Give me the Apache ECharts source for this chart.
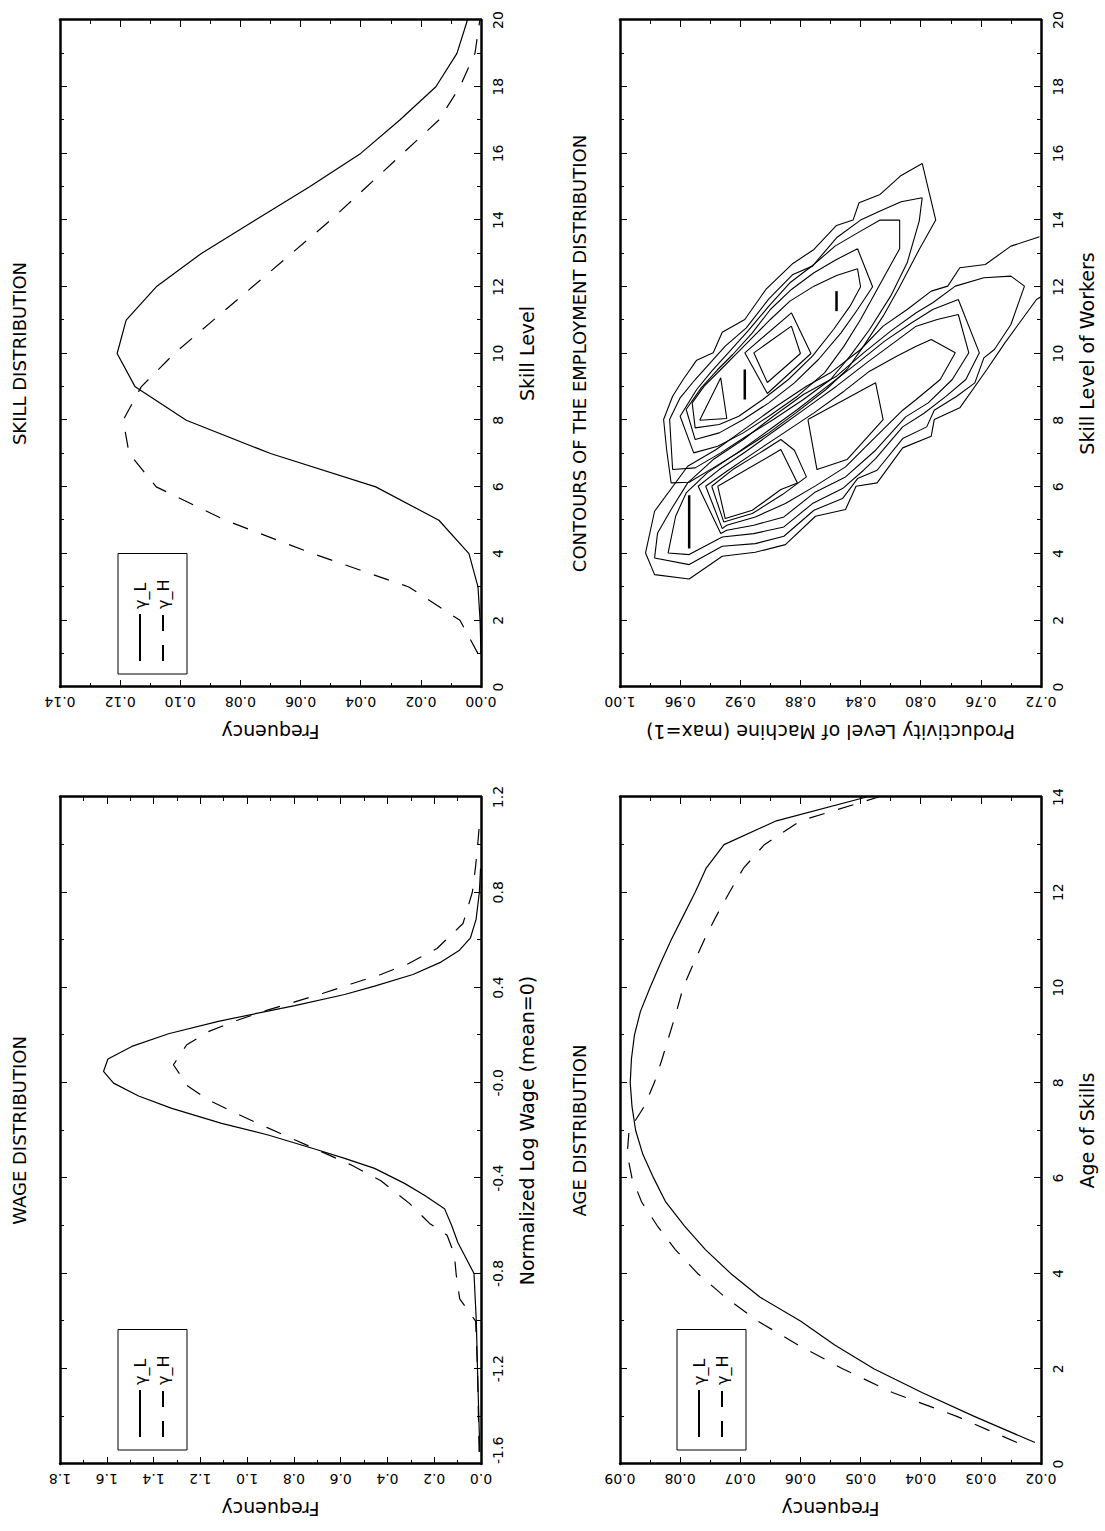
<!DOCTYPE html>
<html>
<head>
<meta charset="utf-8">
<title>Wage, skill and age distributions</title>
<script src="https://cdn.jsdelivr.net/npm/echarts@6/dist/echarts.min.js"></script>
<style>
html, body { margin: 0; padding: 0; background: #fff; width: 1105px; height: 1531px; overflow: hidden; }
/* the figure is a landscape page printed sideways */
#page { position: absolute; left: 0; top: 0; width: 1531px; height: 1105px;
        transform-origin: 0 0; transform: translateY(1531px) rotate(-90deg); }
</style>
</head>
<body>
<div id="page"></div>
<script>
// ---- wage distribution
var wageGridL = [-1.55, -1.2, -1.0, -0.8, -0.67, -0.6, -0.528, -0.472, -0.422, -0.359, -0.317, -0.282, -0.219, -0.17, -0.107, -0.055, -0.001, 0.048, 0.10, 0.153, 0.206, 0.258, 0.296, 0.324, 0.371, 0.406, 0.455, 0.507, 0.557, 0.609, 0.686, 0.80, 0.90];
var wageL = [0.005, 0.015, 0.02, 0.03, 0.099, 0.125, 0.156, 0.242, 0.327, 0.455, 0.583, 0.697, 0.91, 1.109, 1.322, 1.464, 1.571, 1.614, 1.595, 1.493, 1.336, 1.123, 0.938, 0.796, 0.583, 0.455, 0.291, 0.171, 0.092, 0.045, 0.021, 0.007, 0.002];
var wageGridH = [-1.55, -1.2, -1.0, -0.907, -0.805, -0.72, -0.64, -0.59, -0.506, -0.411, -0.347, -0.295, -0.241, -0.187, -0.131, -0.073, -0.013, 0.076, 0.16, 0.215, 0.262, 0.302, 0.34, 0.376, 0.415, 0.453, 0.50, 0.564, 0.669, 0.80, 0.91, 0.99, 1.07];
var wageH = [0.008, 0.015, 0.023, 0.091, 0.106, 0.114, 0.145, 0.22, 0.306, 0.428, 0.55, 0.668, 0.792, 0.916, 1.041, 1.163, 1.254, 1.315, 1.258, 1.166, 1.045, 0.924, 0.796, 0.675, 0.556, 0.434, 0.311, 0.188, 0.077, 0.037, 0.023, 0.015, 0.008];

// ---- skill distribution
var skillLevels = [1, 2, 3, 4, 5, 6, 7, 8, 9, 10, 11, 12, 13, 14, 15, 16, 17, 18, 19, 20];
var skillL = [0.000, 0.0003, 0.001, 0.004, 0.014, 0.035, 0.070, 0.098, 0.115, 0.121, 0.118, 0.108, 0.093, 0.075, 0.057, 0.040, 0.027, 0.015, 0.008, 0.0045];
var skillH = [0.001, 0.007, 0.024, 0.056, 0.085, 0.108, 0.117, 0.119, 0.113, 0.102, 0.089, 0.076, 0.063, 0.050, 0.038, 0.026, 0.014, 0.007, 0.002, 0.0004];

// ---- age distribution
var ageGrid = [0.45, 1, 1.5, 2, 2.5, 3, 3.5, 4, 4.5, 5, 5.5, 6, 6.5, 7, 7.5, 8, 8.5, 9, 9.5, 10, 10.5, 11, 11.5, 12, 12.5, 13, 13.5, 14];
var ageL = [0.0210, 0.0311, 0.0398, 0.0478, 0.0543, 0.0600, 0.0667, 0.0716, 0.0758, 0.0793, 0.0824, 0.0844, 0.0862, 0.0874, 0.0880, 0.0883, 0.0881, 0.0876, 0.0866, 0.0850, 0.0833, 0.0815, 0.0795, 0.0775, 0.0757, 0.0727, 0.0640, 0.0490];
var ageH = [0.0240, 0.0340, 0.0447, 0.0530, 0.0604, 0.0671, 0.0725, 0.0771, 0.0808, 0.0838, 0.0864, 0.0880, 0.0888, 0.0885, 0.0860, 0.0843, 0.0830, 0.0818, 0.0806, 0.0795, 0.0778, 0.0760, 0.0740, 0.0718, 0.0695, 0.0660, 0.0600, 0.0470];

// ---- employment contours: [skill, productivity]
var ringA1 = [[15.70,0.799],[15.34,0.813],[14.77,0.827],[14.52,0.841],[14.00,0.845],[13.84,0.856],[13.12,0.871],[12.70,0.885],[11.92,0.903],[11.02,0.917],[10.64,0.932],[10.02,0.938],[9.80,0.949],[9.22,0.958],[8.72,0.965],[8.02,0.971],[7.12,0.969],[6.12,0.966],[6.14,0.954],[6.57,0.938],[7.07,0.920],[7.62,0.901],[8.22,0.883],[8.92,0.863],[9.52,0.849],[10.22,0.838],[11.12,0.825],[12.00,0.814],[13.12,0.801],[14.00,0.790],[15.70,0.799]];
var ringA2 = [[14.67,0.799],[14.55,0.813],[14.27,0.827],[14.00,0.840],[13.47,0.856],[12.62,0.872],[12.37,0.885],[11.64,0.901],[10.77,0.916],[10.22,0.930],[9.72,0.940],[9.22,0.950],[8.67,0.960],[8.02,0.967],[6.52,0.965],[6.57,0.950],[7.02,0.933],[7.52,0.916],[8.02,0.898],[8.62,0.878],[9.22,0.860],[9.92,0.847],[10.72,0.834],[11.72,0.820],[12.72,0.809],[13.97,0.801],[14.67,0.799]];
var ringA3 = [[14.00,0.814],[14.00,0.827],[13.67,0.840],[13.22,0.857],[12.67,0.871],[12.12,0.887],[11.42,0.901],[10.67,0.915],[10.02,0.928],[9.47,0.939],[8.92,0.949],[8.12,0.960],[7.02,0.951],[7.22,0.935],[7.62,0.918],[8.12,0.901],[8.72,0.882],[9.42,0.864],[10.22,0.851],[11.02,0.840],[11.92,0.829],[12.82,0.818],[13.14,0.814],[14.00,0.814]];
var ringA4 = [[13.14,0.842],[12.82,0.856],[12.42,0.871],[11.92,0.886],[11.32,0.900],[10.62,0.912],[9.97,0.925],[9.52,0.935],[8.97,0.946],[8.32,0.956],[7.42,0.950],[7.62,0.934],[8.02,0.918],[8.52,0.901],[9.12,0.884],[9.82,0.868],[10.62,0.853],[11.32,0.842],[12.00,0.832],[13.14,0.842]];
var ringA5 = [[12.54,0.842],[12.34,0.856],[12.02,0.871],[11.57,0.887],[11.02,0.900],[10.52,0.911],[10.02,0.922],[9.52,0.933],[9.02,0.944],[8.52,0.952],[7.77,0.950],[7.87,0.934],[8.12,0.921],[8.62,0.905],[9.22,0.888],[9.92,0.872],[10.72,0.858],[11.42,0.847],[12.00,0.840],[12.54,0.842]];
var ringA6 = [[8.00,0.947],[9.27,0.933],[8.05,0.929],[8.00,0.947]];
var ringA7 = [[11.22,0.886],[10.00,0.873],[8.80,0.902],[10.02,0.917],[11.22,0.886]];
var ringA8 = [[10.82,0.886],[10.00,0.880],[9.13,0.902],[10.02,0.911],[10.82,0.886]];
var ringB1 = [[13.50,0.721],[13.22,0.740],[12.67,0.757],[12.57,0.774],[12.02,0.782],[11.87,0.793],[11.32,0.809],[10.82,0.825],[10.12,0.840],[9.42,0.860],[9.02,0.876],[8.42,0.896],[7.77,0.916],[7.12,0.936],[6.62,0.955],[5.27,0.977],[4.02,0.983],[3.37,0.977],[3.24,0.954],[3.92,0.932],[4.04,0.910],[4.27,0.890],[5.12,0.870],[5.32,0.850],[6.02,0.843],[6.12,0.829],[7.17,0.812],[7.52,0.793],[8.02,0.791],[8.37,0.774],[9.52,0.756],[10.32,0.744],[11.62,0.723],[11.70,0.720]];
var ringB2 = [[12.32,0.740],[12.02,0.731],[10.87,0.740],[10.12,0.751],[9.87,0.758],[9.12,0.764],[8.72,0.776],[8.30,0.791],[7.80,0.796],[7.45,0.812],[6.50,0.829],[6.25,0.842],[5.65,0.852],[5.30,0.871],[4.52,0.891],[4.30,0.910],[4.22,0.932],[3.67,0.954],[3.87,0.977],[4.62,0.975],[5.32,0.966],[6.12,0.955],[6.82,0.938],[7.42,0.918],[8.12,0.898],[8.77,0.878],[9.32,0.856],[10.02,0.838],[10.67,0.820],[11.22,0.803],[11.52,0.792],[12.02,0.777],[12.27,0.758],[12.32,0.740]];
var ringB3 = [[11.62,0.775],[10.02,0.761],[9.22,0.770],[8.72,0.783],[8.20,0.798],[7.80,0.812],[6.85,0.830],[6.50,0.838],[5.95,0.852],[5.50,0.872],[4.80,0.891],[4.60,0.911],[4.50,0.932],[3.97,0.954],[4.02,0.968],[5.12,0.963],[5.82,0.956],[6.42,0.942],[7.02,0.922],[7.67,0.902],[8.32,0.882],[9.02,0.862],[9.72,0.842],[10.37,0.824],[10.92,0.806],[11.32,0.792],[11.62,0.775]];
var ringB4 = [[11.17,0.775],[10.02,0.768],[9.22,0.779],[8.52,0.795],[8.10,0.810],[7.10,0.830],[6.30,0.850],[5.85,0.870],[5.10,0.891],[4.85,0.911],[4.70,0.929],[4.60,0.933],[6.02,0.948],[6.52,0.934],[7.07,0.916],[7.72,0.896],[8.37,0.876],[9.02,0.856],[9.72,0.836],[10.32,0.818],[10.82,0.803],[11.02,0.789],[11.17,0.775]];
var ringB5 = [[10.42,0.793],[10.02,0.777],[9.22,0.787],[8.62,0.803],[8.30,0.812],[7.50,0.830],[6.60,0.850],[6.03,0.870],[5.50,0.890],[5.10,0.910],[4.85,0.929],[4.75,0.932],[6.02,0.943],[6.47,0.929],[7.02,0.911],[7.62,0.891],[8.22,0.871],[8.87,0.851],[9.47,0.834],[9.92,0.816],[10.22,0.803],[10.42,0.793]];
var ringB6 = [[6.02,0.939],[6.52,0.925],[7.02,0.907],[7.42,0.893],[7.10,0.884],[6.30,0.876],[5.77,0.892],[5.20,0.912],[4.95,0.931],[6.02,0.939]];
var ringB7 = [[6.02,0.935],[7.12,0.893],[6.12,0.882],[5.92,0.893],[5.30,0.912],[5.05,0.930],[6.02,0.935]];
var ringB8 = [[8.02,0.875],[9.12,0.830],[8.02,0.825],[6.82,0.849],[6.52,0.869],[8.02,0.875]];
// single-cell peaks, drawn as short strokes
var peakA1 = [[11.87,0.856],[11.27,0.856]];
var peakA2 = [[9.52,0.917],[8.62,0.917]];
var peakB1 = [[4.15,0.954],[5.75,0.954]];

var rings = [ringA1, ringA2, ringA3, ringA4, ringA5, ringA6, ringA7, ringA8,
             ringB1, ringB2, ringB3, ringB4, ringB5, ringB6, ringB7, ringB8];
var peaks = [peakA1, peakA2, peakB1];

var FONT = 'DejaVu Sans';
var chart = echarts.init(document.getElementById('page'), null, { renderer: 'svg', width: 1531, height: 1105 });

function pairs(xs, ys) {
    return xs.map(function (x, i) { return [x, ys[i]]; });
}

var grids = [
    { left: 67,  top: 60,  width: 667, height: 421 },   // wage
    { left: 844, top: 60,  width: 667, height: 421 },   // skill
    { left: 67,  top: 620, width: 667, height: 421 },   // age
    { left: 844, top: 620, width: 667, height: 421 }    // contours
];

var xAxes = [], yAxes = [];
var frameLine = { onZero: false, lineStyle: { color: '#000', width: 2.5 } };
var majorTick = { inside: true, length: 7, lineStyle: { color: '#000', width: 1 } };
var minorTick = { show: true, splitNumber: 2, length: 4, lineStyle: { color: '#000', width: 1 } };
var labelText = { color: '#000', fontFamily: FONT, fontSize: 14 };
var nameText = { color: '#000', fontFamily: FONT, fontSize: 19 };

// bottom + top, left + right axes for each panel, ticks pointing in
function panelAxes(g, xr, yr) {
    var xl = Object.assign({ margin: 10, formatter: xr.fmt }, labelText);
    if (xr.alignMin) xl.alignMinLabel = xr.alignMin;
    xAxes.push({ type: 'value', gridIndex: g, position: 'bottom', min: xr.min, max: xr.max, interval: xr.step,
        axisLine: frameLine, axisTick: majorTick, minorTick: minorTick, splitLine: { show: false },
        axisLabel: xl, name: xr.name, nameLocation: 'middle', nameGap: 36, nameTextStyle: nameText });
    xAxes.push({ type: 'value', gridIndex: g, position: 'top', min: xr.min, max: xr.max, interval: xr.step,
        axisLine: frameLine, axisTick: majorTick, minorTick: minorTick, splitLine: { show: false },
        axisLabel: { show: false } });
    yAxes.push({ type: 'value', gridIndex: g, position: 'left', min: yr.min, max: yr.max, interval: yr.step,
        axisLine: frameLine, axisTick: majorTick, minorTick: minorTick, splitLine: { show: false },
        axisLabel: Object.assign({ margin: 8, rotate: 90, formatter: yr.fmt }, labelText),
        name: yr.name, nameLocation: 'middle', nameGap: 35, nameTextStyle: nameText });
    yAxes.push({ type: 'value', gridIndex: g, position: 'right', min: yr.min, max: yr.max, interval: yr.step,
        axisLine: frameLine, axisTick: majorTick, minorTick: minorTick, splitLine: { show: false },
        axisLabel: { show: false } });
}

function fixed(n) { return function (v) { return v.toFixed(n); }; }
function wageFmt(v) { return Math.abs(v) < 1e-9 ? '-0.0' : v.toFixed(1); }

panelAxes(0, { min: -1.6, max: 1.2, step: 0.4, fmt: wageFmt, name: 'Normalized Log Wage (mean=0)', alignMin: 'left' },
             { min: 0, max: 1.8, step: 0.2, fmt: fixed(1), name: 'Frequency' });
panelAxes(1, { min: 0, max: 20, step: 2, fmt: fixed(0), name: 'Skill Level' },
             { min: 0, max: 0.14, step: 0.02, fmt: fixed(2), name: 'Frequency' });
panelAxes(2, { min: 0, max: 14, step: 2, fmt: fixed(0), name: 'Age of Skills' },
             { min: 0.02, max: 0.09, step: 0.01, fmt: fixed(2), name: 'Frequency' });
panelAxes(3, { min: 0, max: 20, step: 2, fmt: fixed(0), name: 'Skill Level of Workers' },
             { min: 0.72, max: 1.00, step: 0.04, fmt: fixed(2), name: 'Productivity Level of Machine (max=1)' });

var solid = { color: '#000', width: 1.2, type: 'solid' };
var dashed = { color: '#000', width: 1.2, type: [16, 14] };

function curve(name, g, data, style) {
    return { name: name, type: 'line', xAxisIndex: 2 * g, yAxisIndex: 2 * g, data: data,
             symbol: 'none', lineStyle: style, itemStyle: { color: '#000' }, silent: true };
}

var series = [
    curve('γ_L', 0, pairs(wageGridL, wageL), solid),
    curve('γ_H', 0, pairs(wageGridH, wageH), dashed),
    curve('γ_L', 1, pairs(skillLevels, skillL), solid),
    curve('γ_H', 1, pairs(skillLevels, skillH), dashed),
    curve('γ_L', 2, pairs(ageGrid, ageL), solid),
    curve('γ_H', 2, pairs(ageGrid, ageH), dashed)
];
rings.forEach(function (r) {
    series.push(curve('contour', 3, r, { color: '#000', width: 1.1 }));
});
peaks.forEach(function (p) {
    series.push(curve('peak', 3, p, { color: '#000', width: 2.5 }));
});

// legend keys are plain line samples: hide the marker dot
function legendAt(left, top) {
    return { left: left, top: top, orient: 'vertical', data: ['γ_L', 'γ_H'], selectedMode: false,
             itemWidth: 47, itemHeight: 14, itemGap: 7, padding: [14, 26, 16, 12],
             borderColor: '#000', borderWidth: 1,
             itemStyle: { opacity: 0, color: 'transparent', borderWidth: 0 },
             textStyle: { color: '#000', fontFamily: FONT, fontSize: 16 } };
}

function titleAt(text, cx, top) {
    return { text: text, left: cx, top: top, textAlign: 'center', padding: 0,
             textStyle: { color: '#000', fontFamily: FONT, fontSize: 18, fontWeight: 'normal' } };
}

chart.setOption({
    animation: false,
    backgroundColor: '#fff',
    textStyle: { fontFamily: FONT },
    title: [
        titleAt('WAGE DISTRIBUTION', 400.5, 10),
        titleAt('SKILL DISTRIBUTION', 1177.5, 10),
        titleAt('AGE DISTRIBUTION', 400.5, 570),
        titleAt('CONTOURS OF THE EMPLOYMENT DISTRIBUTION', 1177.5, 570)
    ],
    legend: [legendAt(81, 118), legendAt(857, 118), legendAt(81, 677)],
    grid: grids,
    xAxis: xAxes,
    yAxis: yAxes,
    series: series
});
</script>
</body>
</html>
